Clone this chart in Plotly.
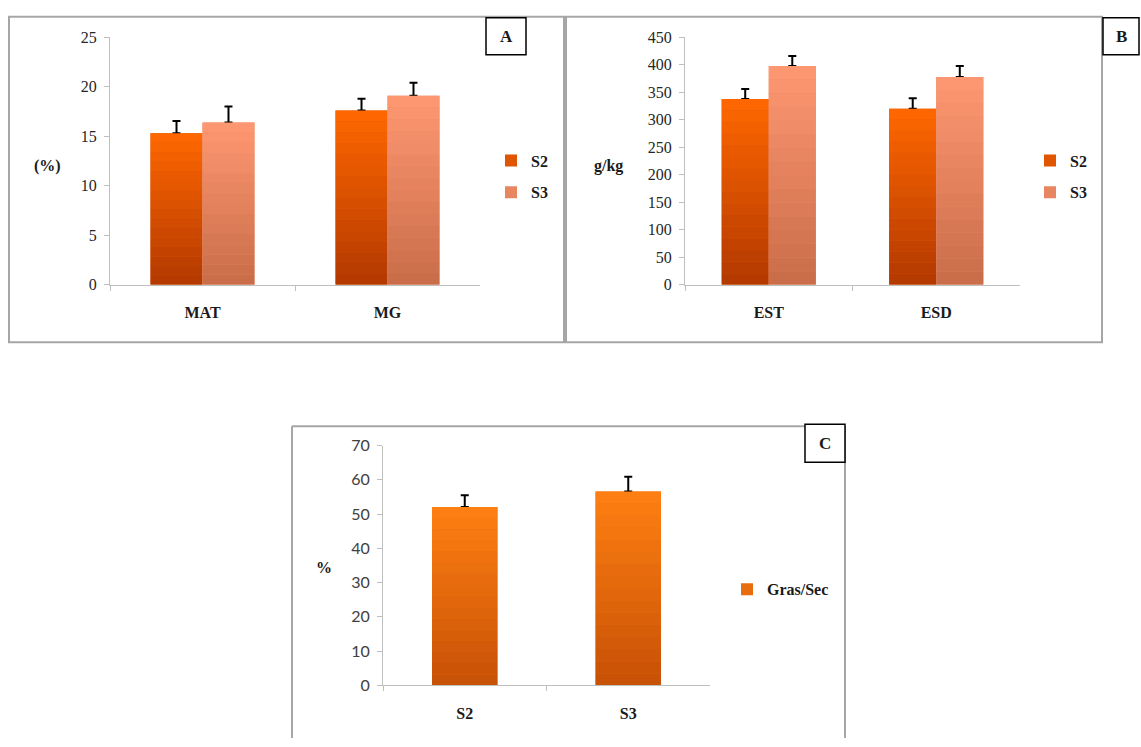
import plotly.graph_objects as go

# Panel A: MAT / MG (%)
cats_a = ["MAT", "MG"]
s2_a = [15.3, 17.6]
s3_a = [16.4, 19.1]
s2_a_err = [1.25, 1.2]
s3_a_err = [1.6, 1.3]

# Panel B: EST / ESD (g/kg)
cats_b = ["EST", "ESD"]
s2_b = [338, 320]
s3_b = [398, 378]
s2_b_err = [18, 19]
s3_b_err = [18, 20]

# Panel C: Gras/Sec (%)
cats_c = ["S2", "S3"]
gras_sec = [52.1, 56.6]
gras_sec_err = [3.4, 4.3]

W, H = 1141, 747
SERIF = "Liberation Serif, Times New Roman, serif"
SANS = "Lato, Liberation Sans, sans-serif"
N_BANDS = 16


def px(x):
    return x / W


def py(y):
    return 1 - y / H


def mix(c0, c1, t):
    return "rgb(%d,%d,%d)" % tuple(round(a + (b - a) * t) for a, b in zip(c0, c1))


def gradient_bars(fig, cats, values, errs, name, top, bottom, offset, width,
                  xa, ya, legend):
    # Full bar: legend entry and upward error bar
    fig.add_trace(go.Bar(
        x=cats, y=values, offset=offset, width=width, name=name,
        marker=dict(color=mix(bottom, top, 0.6), line_width=0),
        error_y=dict(type="data", symmetric=False, array=errs,
                     arrayminus=[0] * len(errs), color="black",
                     thickness=2, width=4),
        xaxis=xa, yaxis=ya, legend=legend, legendgroup=name + xa,
        showlegend=True, hoverinfo="skip"))
    # Vertical colour gradient built from stacked bands of the same bar
    for k in range(N_BANDS):
        t = (k + 0.5) / N_BANDS
        fig.add_trace(go.Bar(
            x=cats, y=[v / N_BANDS for v in values],
            base=[v * k / N_BANDS for v in values],
            offset=offset, width=width, name=name,
            marker=dict(color=mix(bottom, top, t), line_width=0),
            xaxis=xa, yaxis=ya, legend=legend, legendgroup=name + xa,
            showlegend=False, hoverinfo="skip"))


S2_TOP, S2_BOT = (255, 104, 0), (178, 56, 0)
S3_TOP, S3_BOT = (255, 152, 115), (200, 108, 72)
C_TOP, C_BOT = (255, 128, 18), (198, 80, 6)

fig = go.Figure()

gradient_bars(fig, cats_a, s2_a, s2_a_err, "S2", S2_TOP, S2_BOT, -0.281, 0.281, "x", "y", "legend")
gradient_bars(fig, cats_a, s3_a, s3_a_err, "S3", S3_TOP, S3_BOT, 0.0, 0.281, "x", "y", "legend")
gradient_bars(fig, cats_b, s2_b, s2_b_err, "S2", S2_TOP, S2_BOT, -0.281, 0.281, "x2", "y2", "legend2")
gradient_bars(fig, cats_b, s3_b, s3_b_err, "S3", S3_TOP, S3_BOT, 0.0, 0.281, "x2", "y2", "legend2")
gradient_bars(fig, cats_c, gras_sec, gras_sec_err, "Gras/Sec", C_TOP, C_BOT, -0.2, 0.4, "x3", "y3", "legend3")

AXIS_GREY = "#bfbfbf"


def xaxis_style(x0, x1, ay):
    return dict(domain=[px(x0), px(x1)], anchor=ay, type="category",
                range=[-0.5, 1.5], showline=True, linecolor=AXIS_GREY,
                linewidth=1, ticks="outside", tickson="boundaries",
                tickcolor=AXIS_GREY, ticklen=5, showgrid=False,
                ticklabelstandoff=13,
                tickfont=dict(family=SERIF, size=16, color="#1a1a1a",
                              weight="bold"))


def yaxis_style(y_top, y_zero, ax, rng, dtick, font):
    return dict(domain=[py(y_zero), py(y_top)], anchor=ax, range=rng,
                dtick=dtick, showline=True, linecolor=AXIS_GREY, linewidth=1,
                ticks="outside", tickcolor=AXIS_GREY, ticklen=5,
                showgrid=False, zeroline=False, ticklabelstandoff=4,
                tickfont=font)


serif_ticks = dict(family=SERIF, size=16, color="#262626")
sans_ticks = dict(family=SANS, size=16, color="#404040")

layout = dict(
    width=W, height=H, margin=dict(l=0, r=0, t=0, b=0),
    paper_bgcolor="white", plot_bgcolor="white", barmode="overlay",
    xaxis=xaxis_style(110, 480, "y"),
    yaxis=yaxis_style(28, 282, "x", [0, 25], 5, serif_ticks),
    xaxis2=xaxis_style(685, 1020, "y2"),
    yaxis2=yaxis_style(28, 282, "x2", [0, 450], 50, serif_ticks),
    xaxis3=xaxis_style(383, 710, "y3"),
    yaxis3=yaxis_style(447, 693, "x3", [0, 70], 10, sans_ticks),
)

legend_font = dict(family=SERIF, size=16, color="#1a1a1a", weight="bold")


def legend_at(x, y):
    return dict(x=px(x), y=py(y), xanchor="left", yanchor="top",
                bgcolor="rgba(0,0,0,0)", font=legend_font, itemwidth=30,
                tracegroupgap=8, traceorder="grouped")


layout["legend"] = legend_at(491, 137)
layout["legend2"] = legend_at(1030, 137)
layout["legend3"] = legend_at(727, 577)

GREY = "#a6a6a6"
shapes = [
    # panel frames
    dict(type="rect", xref="paper", yref="paper", x0=px(9), x1=px(564),
         y0=py(341), y1=py(7), line=dict(color=GREY, width=2)),
    dict(type="rect", xref="paper", yref="paper", x0=px(566), x1=px(1102),
         y0=py(341), y1=py(7), line=dict(color=GREY, width=2)),
    dict(type="line", xref="paper", yref="paper", x0=px(292), x1=px(292),
         y0=0, y1=py(427), line=dict(color=GREY, width=2)),
    dict(type="line", xref="paper", yref="paper", x0=px(292), x1=px(845),
         y0=py(427), y1=py(427), line=dict(color=GREY, width=2)),
    dict(type="line", xref="paper", yref="paper", x0=px(845), x1=px(845),
         y0=0, y1=py(427), line=dict(color=GREY, width=2)),
    # panel letter boxes
    dict(type="rect", xref="paper", yref="paper", x0=px(486), x1=px(526),
         y0=py(46), y1=py(8), line=dict(color="black", width=1.5),
         fillcolor="white"),
    dict(type="rect", xref="paper", yref="paper", x0=px(1103), x1=px(1139),
         y0=py(46), y1=py(8), line=dict(color="black", width=1.5),
         fillcolor="white"),
    dict(type="rect", xref="paper", yref="paper", x0=px(805), x1=px(845),
         y0=py(464), y1=py(425), line=dict(color="black", width=1.5),
         fillcolor="white"),
]
layout["shapes"] = shapes


def label(text, x, y, size=16, family=SERIF, weight="bold"):
    return dict(text=text, xref="paper", yref="paper", x=px(x), y=py(y),
                xanchor="center", yanchor="middle", showarrow=False,
                font=dict(family=family, size=size, color="#1a1a1a",
                          weight=weight))


layout["annotations"] = [
    label("A", 506, 27, size=17),
    label("B", 1121, 27, size=17),
    label("C", 825, 445, size=17),
    label("(%)", 47, 160),
    label("g/kg", 608, 160),
    label("%", 324, 572),
]

fig.update_layout(**layout)
fig.write_html("out.html")
